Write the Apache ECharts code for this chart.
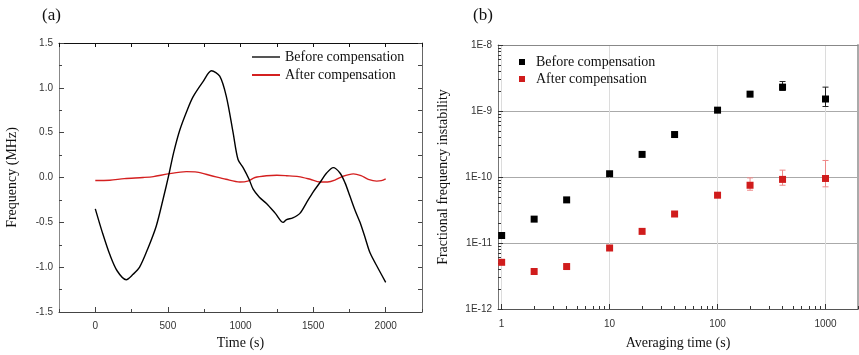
<!DOCTYPE html>
<html><head><meta charset="utf-8">
<script src="https://cdn.jsdelivr.net/npm/echarts@6/dist/echarts.min.js"></script>
<style>html,body{margin:0;padding:0;background:#fff}#c{width:859px;height:355px}</style>
</head><body><div id="c"></div>
<script>
// ---- Panel (a) data ----
var beforeT = [0,50,100,150,213,260,305,360,420,470,505,540,582,630,673,742,800,857,903,949,983,1018,1059,1087,1130,1179,1240,1294,1317,1360,1409,1455,1501,1550,1593,1639,1685,1720,1754,1790,1823,1860,1892,1950,2000];
var beforeV = [-0.35,-0.62,-0.86,-1.04,-1.14,-1.08,-1.00,-0.80,-0.54,-0.22,0.02,0.28,0.53,0.74,0.90,1.07,1.19,1.13,0.90,0.50,0.20,0.11,-0.02,-0.13,-0.22,-0.29,-0.40,-0.50,-0.47,-0.45,-0.40,-0.28,-0.16,-0.05,0.05,0.11,0.05,-0.06,-0.21,-0.37,-0.50,-0.68,-0.84,-1.02,-1.17];
var afterT = [0,100,200,329,400,500,627,700,800,900,995,1050,1100,1179,1250,1317,1400,1480,1547,1600,1650,1700,1777,1830,1880,1938,1970,2000];
var afterV = [-0.033,-0.03,-0.012,0.0,0.01,0.04,0.065,0.06,0.02,-0.02,-0.05,-0.04,0.0,0.02,0.025,0.02,0.01,-0.02,-0.05,-0.05,-0.03,0.01,0.04,0.02,-0.02,-0.04,-0.035,-0.015];
var xTicksA = [0,500,1000,1500,2000];
var xMinorA = [-250,250,750,1250,1750,2250];
// ---- Panel (b) data ----
var tau = [1,2,4,10,20,40,100,200,400,1000];
var beforeDev = [1.3e-11,2.3e-11,4.5e-11,1.12e-10,2.2e-10,4.4e-10,1.03e-9,1.8e-9,2.3e-9,1.52e-9];
var afterDev = [5.1e-12,3.7e-12,4.4e-12,8.4e-12,1.5e-11,2.75e-11,5.3e-11,7.5e-11,9.2e-11,9.5e-11];
var errTau = [200,400,1000];
var beforeLo = [1.7e-9,2.05e-9,1.17e-9];
var beforeHi = [1.95e-9,2.8e-9,2.3e-9];
var afterLo = [6.3e-11,7.5e-11,7.1e-11];
var afterHi = [9.7e-11,1.27e-10,1.78e-10];
var xTicksB = [1,10,100,1000];
var yTicksB = [1e-12,1e-11,1e-10,1e-9,1e-8];

function minorLog(lo, hi){ var r=[]; for(var e=lo;e<hi;e++){ for(var m=2;m<=9;m++){ r.push(m*Math.pow(10,e)); } } return r; }
function zip(a,b){ return a.map(function(v,i){return [v,b[i]];}); }

var chart = echarts.init(document.getElementById('c'));
var serif = 'Liberation Serif';
var sans = 'Liberation Sans';
var nameStyle = {fontFamily: serif, fontSize: 14, color: '#111'};
function plain(v){ return String(v); }

function errSeries(xi, yi, lo, hi, color){
  return {
    type: 'custom', xAxisIndex: xi, yAxisIndex: yi, z: 3,
    data: errTau.map(function(t,i){return [t, lo[i], hi[i]];}),
    renderItem: function(params, api){
      var p1 = api.coord([api.value(0), api.value(1)]);
      var p2 = api.coord([api.value(0), api.value(2)]);
      var w = 3;
      var st = {stroke: color, lineWidth: 1};
      return {type:'group', children:[
        {type:'line', shape:{x1:p1[0],y1:p1[1],x2:p2[0],y2:p2[1]}, style: st},
        {type:'line', shape:{x1:p1[0]-w,y1:p1[1],x2:p1[0]+w,y2:p1[1]}, style: st},
        {type:'line', shape:{x1:p2[0]-w,y1:p2[1],x2:p2[0]+w,y2:p2[1]}, style: st}
      ]};
    }
  };
}

var option = {
  animation: false,
  backgroundColor: '#fff',
  title: [
    {text: '(a)', left: 37, top: 2, textStyle: {fontFamily: serif, fontSize: 17, fontWeight: 'normal', color: '#111'}},
    {text: '(b)', left: 468, top: 2, textStyle: {fontFamily: serif, fontSize: 17, fontWeight: 'normal', color: '#111'}}
  ],
  grid: [
    {left: 59, top: 43, width: 363, height: 270},
    {left: 498, top: 45, width: 360, height: 265}
  ],
  legend: [
    {orient: 'vertical', left: 247, top: 45, itemWidth: 28, itemHeight: 2, itemGap: 4, icon: 'rect',
     textStyle: {fontFamily: serif, fontSize: 14, color: '#111'},
     data: [{name: 'Before compensation', itemStyle: {color: '#555'}}, {name: 'After compensation', itemStyle: {color: '#d42020'}}]},
    {orient: 'vertical', left: 514, top: 50, itemWidth: 6, itemHeight: 6, itemGap: 3, icon: 'rect',
     textStyle: {fontFamily: serif, fontSize: 14, color: '#111', padding: [0,0,0,6]},
     data: ['Before compensation ', 'After compensation ']}
  ],
  xAxis: [
    {gridIndex: 0, type: 'value', position: 'bottom', min: -250, max: 2250,
     name: 'Time (s)', nameLocation: 'middle', nameGap: 24, nameTextStyle: nameStyle,
     axisLine: {onZero: false, lineStyle: {color: '#444'}},
     axisTick: {inside: true, length: 5, customValues: xTicksA, lineStyle: {color: '#444'}},
     axisLabel: {customValues: xTicksA, margin: 9, fontFamily: sans, fontSize: 10, color: '#333', formatter: plain},
     splitLine: {show: false}},
    {gridIndex: 0, type: 'value', position: 'bottom', min: -250, max: 2250,
     axisLine: {show: false, onZero: false}, axisLabel: {show: false}, splitLine: {show: false},
     axisTick: {inside: true, length: 3, customValues: xMinorA, lineStyle: {color: '#444'}}},
    {gridIndex: 0, type: 'value', position: 'top', min: -250, max: 2250, interval: 250,
     axisLine: {onZero: false, lineStyle: {color: '#111'}}, axisLabel: {show: false}, splitLine: {show: false},
     axisTick: {inside: true, length: 4, lineStyle: {color: '#111'}}},
    {gridIndex: 1, type: 'log', position: 'bottom', min: 0.925, max: 2000,
     name: 'Averaging time (s)', nameLocation: 'middle', nameGap: 27, nameTextStyle: nameStyle,
     axisLine: {onZero: false, lineStyle: {color: '#555'}},
     axisTick: {inside: true, length: 5, customValues: xTicksB, lineStyle: {color: '#333'}},
     axisLabel: {customValues: xTicksB, margin: 10, fontFamily: sans, fontSize: 10, color: '#333', formatter: plain},
     splitLine: {show: true, lineStyle: {color: '#dcdcdc', width: 1}}},
    {gridIndex: 1, type: 'log', position: 'bottom', min: 0.925, max: 2000,
     axisLine: {show: false, onZero: false}, axisLabel: {show: false}, splitLine: {show: false},
     axisTick: {inside: true, length: 3, customValues: minorLog(0,4).filter(function(v){return v<=2000;}), lineStyle: {color: '#333'}}},
    {gridIndex: 1, type: 'log', position: 'top', min: 0.925, max: 2000,
     axisLine: {onZero: false, lineStyle: {color: '#888'}}, axisLabel: {show: false}, axisTick: {show: false}, splitLine: {show: false}}
  ],
  yAxis: [
    {gridIndex: 0, type: 'value', position: 'left', min: -1.5, max: 1.5, interval: 0.5,
     name: 'Frequency (MHz)', nameLocation: 'middle', nameGap: 40, nameTextStyle: nameStyle,
     axisLine: {show: true, onZero: false, lineStyle: {color: '#888'}},
     axisTick: {show: true, inside: true, length: 5, lineStyle: {color: '#444'}},
     minorTick: {show: true, splitNumber: 2, length: 3, lineStyle: {color: '#444'}},
     axisLabel: {margin: 6, fontFamily: sans, fontSize: 10, color: '#333', formatter: function(v){return v.toFixed(1);}},
     splitLine: {show: false}},
    {gridIndex: 0, type: 'value', position: 'right', min: -1.5, max: 1.5, interval: 0.5,
     axisLine: {show: true, onZero: false, lineStyle: {color: '#666'}},
     axisTick: {show: true, inside: true, length: 4, lineStyle: {color: '#444'}},
     minorTick: {show: true, splitNumber: 2, length: 4, lineStyle: {color: '#444'}},
     axisLabel: {show: false}, splitLine: {show: false}},
    {gridIndex: 1, type: 'log', position: 'left', min: 1e-12, max: 1e-8,
     name: 'Fractional frequency instability', nameLocation: 'middle', nameGap: 48, nameTextStyle: nameStyle,
     axisLine: {show: true, onZero: false, lineStyle: {color: '#777'}},
     axisTick: {show: true, inside: true, length: 5, customValues: yTicksB, lineStyle: {color: '#333'}},
     axisLabel: {customValues: yTicksB, margin: 6, fontFamily: sans, fontSize: 10, color: '#333',
       formatter: function(v){ return '1E' + Math.round(Math.log10(v)); }},
     splitLine: {show: true, lineStyle: {color: '#aaa', width: 1}}},
    {gridIndex: 1, type: 'log', position: 'left', min: 1e-12, max: 1e-8,
     axisLine: {show: false, onZero: false}, axisLabel: {show: false}, splitLine: {show: false},
     axisTick: {show: true, inside: true, length: 3, customValues: minorLog(-12,-8), lineStyle: {color: '#333'}}},
    {gridIndex: 1, type: 'log', position: 'right', min: 1e-12, max: 1e-8,
     axisLine: {show: true, onZero: false, lineStyle: {color: '#aaa', width: 2}}, axisLabel: {show: false}, axisTick: {show: false}, splitLine: {show: false}}
  ],
  series: [
    {name: 'Before compensation', type: 'line', xAxisIndex: 0, yAxisIndex: 0, data: zip(beforeT, beforeV),
     smooth: 0.3, showSymbol: false, lineStyle: {color: '#000', width: 1.4}, itemStyle: {color: '#555'}, z: 3},
    {name: 'After compensation', type: 'line', xAxisIndex: 0, yAxisIndex: 0, data: zip(afterT, afterV),
     smooth: 0.3, showSymbol: false, lineStyle: {color: '#d42020', width: 1.4}, itemStyle: {color: '#d42020'}, z: 2},
    errSeries(3, 2, beforeLo, beforeHi, '#222'),
    errSeries(3, 2, afterLo, afterHi, '#e88'),
    {name: 'Before compensation ', type: 'scatter', xAxisIndex: 3, yAxisIndex: 2, data: zip(tau, beforeDev),
     symbol: 'rect', symbolSize: 7, itemStyle: {color: '#000', opacity: 1}, z: 4},
    {name: 'After compensation ', type: 'scatter', xAxisIndex: 3, yAxisIndex: 2, data: zip(tau, afterDev),
     symbol: 'rect', symbolSize: 7, itemStyle: {color: '#d01c1c', opacity: 1}, z: 4}
  ]
};
chart.setOption(option);
</script>
</body></html>
